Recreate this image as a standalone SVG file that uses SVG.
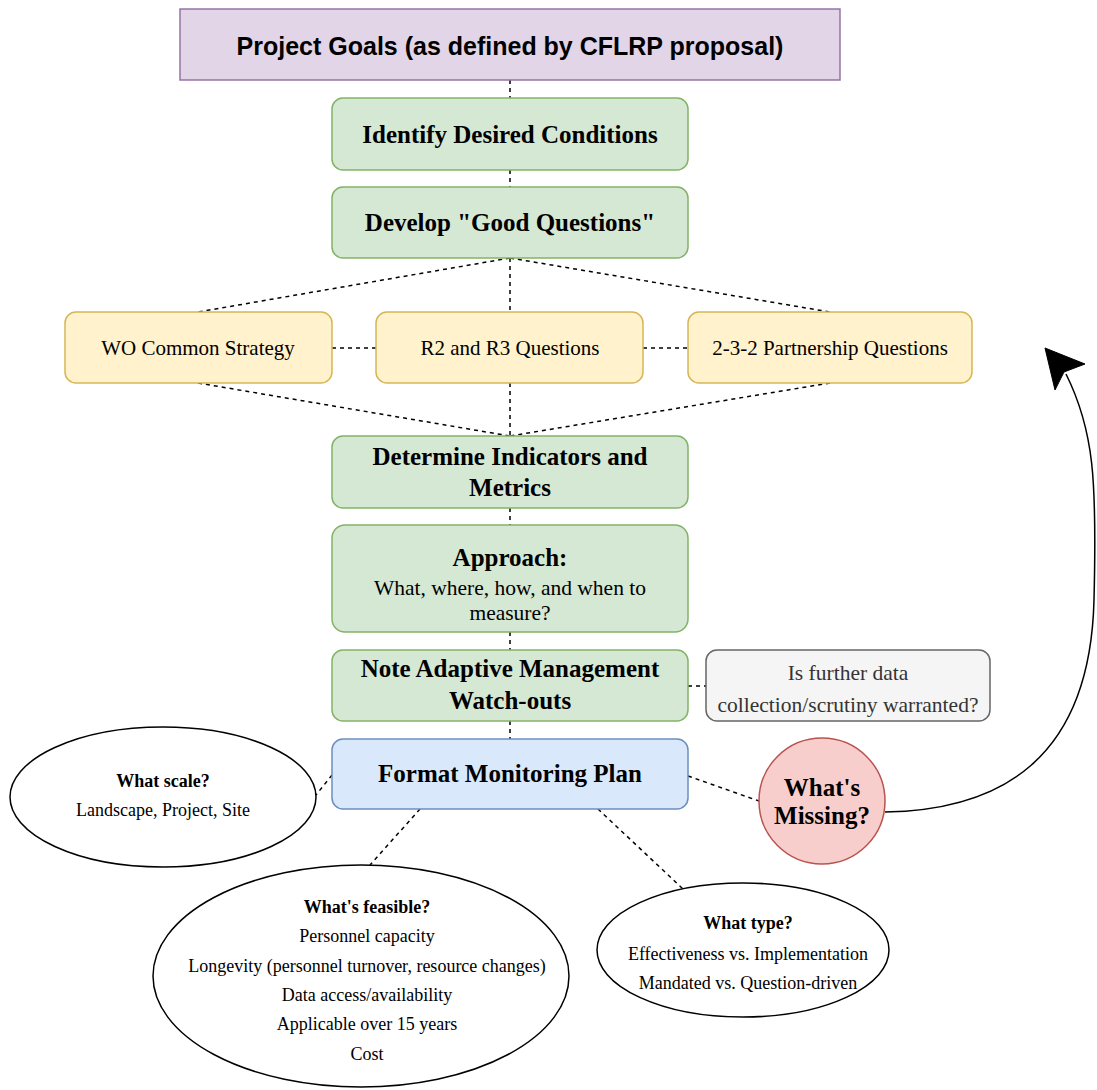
<svg xmlns="http://www.w3.org/2000/svg" width="1097" height="1090" viewBox="0 0 1097 1090">
<defs>
<style>
.g{fill:#d5e8d4;stroke:#82b366;stroke-width:1.5}
.y{fill:#fff2cc;stroke:#d6b656;stroke-width:1.5}
.e{fill:#ffffff;stroke:#000;stroke-width:1.5}
.c{fill:none;stroke:#000;stroke-width:1.5;stroke-dasharray:4 4}
text{font-family:"Liberation Serif","Times New Roman",serif;fill:#000;text-anchor:middle;dominant-baseline:central}
.tb{font-weight:bold;font-size:25px}
.ty{font-size:21px}
.tr{font-size:21.5px}
.te{font-size:18px}
.teb{font-size:18px;font-weight:bold}
</style>
</defs>
<rect width="1097" height="1090" fill="#ffffff"/>
<g id="connectors">
<line class="c" x1="510" y1="80" x2="510" y2="98"/>
<line class="c" x1="510" y1="170" x2="510" y2="187"/>
<line class="c" x1="510" y1="258" x2="510" y2="312"/>
<line class="c" x1="510" y1="258" x2="198" y2="312"/>
<line class="c" x1="510" y1="258" x2="830" y2="312"/>
<line class="c" x1="332" y1="348" x2="376" y2="348"/>
<line class="c" x1="643" y1="348" x2="688" y2="348"/>
<line class="c" x1="198" y1="383" x2="510" y2="436"/>
<line class="c" x1="510" y1="383" x2="510" y2="436"/>
<line class="c" x1="830" y1="383" x2="510" y2="436"/>
<line class="c" x1="510" y1="508" x2="510" y2="525"/>
<line class="c" x1="510" y1="632" x2="510" y2="650"/>
<line class="c" x1="510" y1="721" x2="510" y2="739"/>
<line class="c" x1="688" y1="686" x2="706" y2="686"/>
<line class="c" x1="688" y1="776" x2="759" y2="801"/>
<line class="c" x1="332" y1="775" x2="316" y2="795"/>
<line class="c" x1="420" y1="809" x2="370" y2="865"/>
<line class="c" x1="598" y1="809" x2="683" y2="889"/>
<path d="M885 812 C1000 810 1090 760 1094 600 C1097 480 1094 430 1066 374" fill="none" stroke="#000" stroke-width="1.5"/>
<path d="M1045 348 L1085 364 L1064 372 L1055 390 Z" fill="#000" stroke="#000" stroke-width="1"/>
</g>
<g id="goals">
<rect x="180" y="9" width="660" height="71" fill="#e1d5e7" stroke="#9673a6" stroke-width="1.5"/>
<text x="510" y="46" style="font-family:'Liberation Sans',Arial,sans-serif;font-weight:bold;font-size:25px">Project Goals (as defined by CFLRP proposal)</text>
</g>
<g id="identify">
<rect class="g" x="332" y="98" width="356" height="72" rx="11"/>
<text class="tb" x="510" y="134">Identify Desired Conditions</text>
</g>
<g id="develop">
<rect class="g" x="332" y="187" width="356" height="71" rx="11"/>
<text class="tb" x="510" y="222">Develop "Good Questions"</text>
</g>
<g id="wo">
<rect class="y" x="65" y="312" width="267" height="71" rx="11"/>
<text class="ty" x="198" y="348">WO Common Strategy</text>
</g>
<g id="r2r3">
<rect class="y" x="376" y="312" width="267" height="71" rx="11"/>
<text class="ty" x="510" y="348">R2 and R3 Questions</text>
</g>
<g id="partnership">
<rect class="y" x="688" y="312" width="284" height="71" rx="11"/>
<text class="ty" x="830" y="348">2-3-2 Partnership Questions</text>
</g>
<g id="indicators">
<rect class="g" x="332" y="436" width="356" height="72" rx="11"/>
<text class="tb" x="510" y="456">Determine Indicators and</text>
<text class="tb" x="510" y="487">Metrics</text>
</g>
<g id="approach">
<rect class="g" x="332" y="525" width="356" height="107" rx="13"/>
<text class="tb" x="510" y="557">Approach:</text>
<text class="tr" x="510" y="588">What, where, how, and when to</text>
<text class="tr" x="510" y="613">measure?</text>
</g>
<g id="adaptive">
<rect class="g" x="332" y="650" width="356" height="71" rx="11"/>
<text class="tb" x="510" y="668">Note Adaptive Management</text>
<text class="tb" x="510" y="700">Watch-outs</text>
</g>
<g id="further">
<rect x="706" y="650" width="284" height="71" rx="11" fill="#f5f5f5" stroke="#666666" stroke-width="1.5"/>
<text class="tr" x="848" y="673" style="fill:#333333">Is further data</text>
<text class="tr" x="848" y="705" style="fill:#333333">collection/scrutiny warranted?</text>
</g>
<g id="format">
<rect x="332" y="739" width="356" height="70" rx="11" fill="#dae8fc" stroke="#6c8ebf" stroke-width="1.5"/>
<text class="tb" x="510" y="773">Format Monitoring Plan</text>
</g>
<g id="missing">
<circle cx="822" cy="801" r="63" fill="#f8cecc" stroke="#b85450" stroke-width="1.5"/>
<text class="tb" x="822" y="787">What's</text>
<text class="tb" x="822" y="815">Missing?</text>
</g>
<g id="scale">
<ellipse class="e" cx="163" cy="797" rx="153" ry="70"/>
<text class="teb" x="163" y="781">What scale?</text>
<text class="te" x="163" y="810">Landscape, Project, Site</text>
</g>
<g id="feasible">
<ellipse class="e" cx="361" cy="976" rx="208" ry="111"/>
<text class="teb" x="367" y="907">What's feasible?</text>
<text class="te" x="367" y="936">Personnel capacity</text>
<text class="te" x="367" y="966">Longevity (personnel turnover, resource changes)</text>
<text class="te" x="367" y="995">Data access/availability</text>
<text class="te" x="367" y="1024">Applicable over 15 years</text>
<text class="te" x="367" y="1054">Cost</text>
</g>
<g id="type">
<ellipse class="e" cx="743" cy="950" rx="146" ry="67"/>
<text class="teb" x="748" y="923">What type?</text>
<text class="te" x="748" y="954">Effectiveness vs. Implementation</text>
<text class="te" x="748" y="983">Mandated vs. Question-driven</text>
</g>
</svg>
